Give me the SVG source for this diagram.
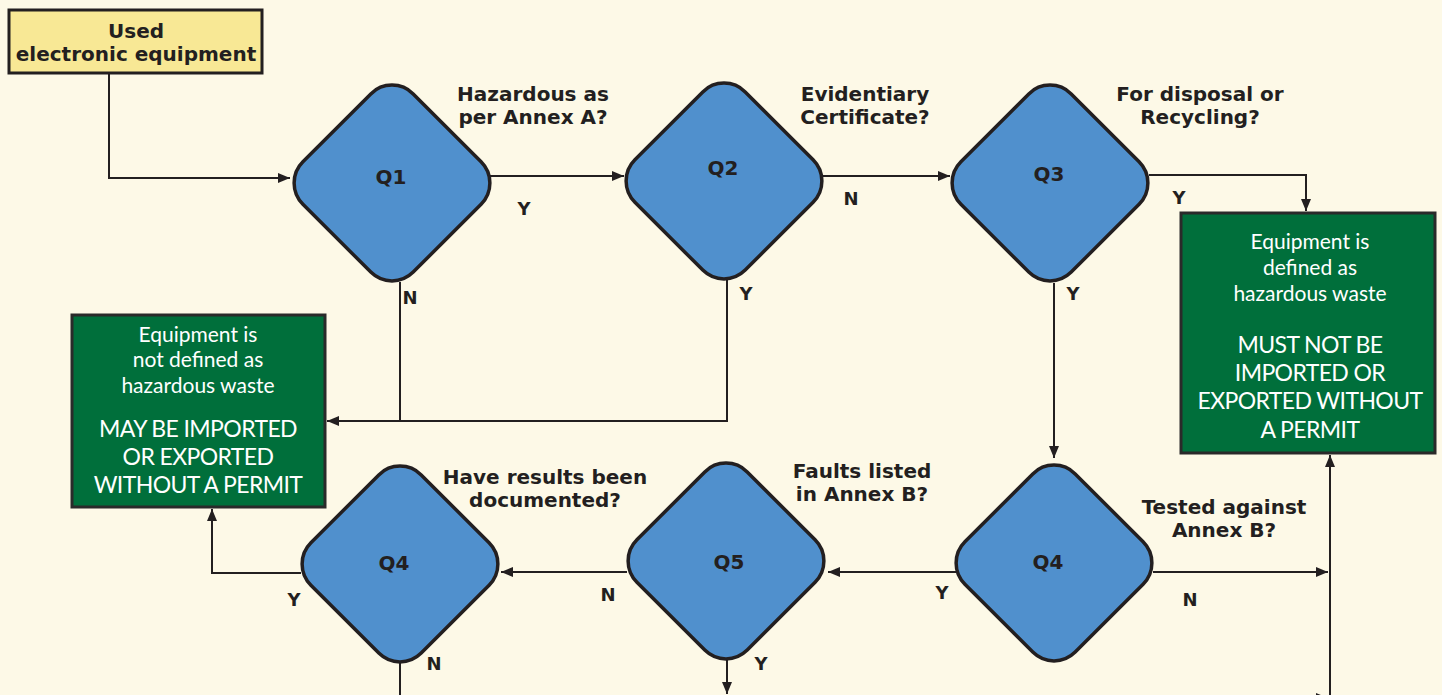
<svg xmlns="http://www.w3.org/2000/svg" width="1442" height="695" viewBox="0 0 1442 695">
<style>
.bg{fill:#fdf9e7}
.dia{fill:#5090cd;stroke:#231f20;stroke-width:3.5}
.yel{fill:#f8e895;stroke:#231f20;stroke-width:3}
.grn{fill:#006f3b;stroke:#2a2a2a;stroke-width:3}
.con{fill:none;stroke:#231f20;stroke-width:2}
.lbl{font-family:"DejaVu Sans","Liberation Sans",sans-serif;font-weight:bold;fill:#231f20;text-anchor:middle}
.q{font-size:20px}
.yn{font-size:18px}
.qt{font-size:20px}
.g{font-family:Lato,"Open Sans",sans-serif;fill:#ffffff;text-anchor:middle}
.gs{font-size:21px}
.gb{font-size:23px;letter-spacing:-0.6px}
</style>
<defs>
<marker id="ah" viewBox="0 0 12 10" refX="12" refY="5" markerWidth="12" markerHeight="10" markerUnits="userSpaceOnUse" orient="auto">
<path d="M0,0 L12,5 L0,10 z" fill="#231f20"/>
</marker>
<rect id="dshape" x="-78" y="-78" width="156" height="156" rx="30" ry="30"/>
</defs>
<rect class="bg" x="0" y="0" width="1442" height="695"/>

<g id="connectors">
<path class="con" d="M109,74 V178 H290" marker-end="url(#ah)"/>
<path class="con" d="M490,176 H624" marker-end="url(#ah)"/>
<path class="con" d="M823,176 H950" marker-end="url(#ah)"/>
<path class="con" d="M1149,175 H1306 V211" marker-end="url(#ah)"/>
<path class="con" d="M1054,283 V458" marker-end="url(#ah)"/>
<path class="con" d="M400,282 V421"/>
<path class="con" d="M727,280 V421 H327" marker-end="url(#ah)"/>
<path class="con" d="M1153,572 H1328" marker-end="url(#ah)"/>
<path class="con" d="M1330,695 V455" marker-end="url(#ah)"/>
<path class="con" d="M1312,698 H1328" marker-end="url(#ah)"/>
<path class="con" d="M956,572 H828" marker-end="url(#ah)"/>
<path class="con" d="M627,572 H501" marker-end="url(#ah)"/>
<path class="con" d="M301,573 H212 V509" marker-end="url(#ah)"/>
<path class="con" d="M400,663 V695"/>
<path class="con" d="M727,660 V694" marker-end="url(#ah)"/>
<text class="lbl yn" x="524" y="215">Y</text>
<text class="lbl yn" x="851" y="205">N</text>
<text class="lbl yn" x="1179" y="204">Y</text>
<text class="lbl yn" x="1073" y="300">Y</text>
<text class="lbl yn" x="410" y="304">N</text>
<text class="lbl yn" x="746" y="300">Y</text>
<text class="lbl yn" x="1190" y="606">N</text>
<text class="lbl yn" x="942" y="599">Y</text>
<text class="lbl yn" x="608" y="601">N</text>
<text class="lbl yn" x="294" y="606">Y</text>
<text class="lbl yn" x="434" y="670">N</text>
<text class="lbl yn" x="761" y="670">Y</text>
<text class="lbl qt" x="533" y="101">Hazardous as</text>
<text class="lbl qt" x="533" y="124">per Annex A?</text>
<text class="lbl qt" x="865" y="101">Evidentiary</text>
<text class="lbl qt" x="865" y="124">Certificate?</text>
<text class="lbl qt" x="1200" y="101">For disposal or</text>
<text class="lbl qt" x="1200" y="124">Recycling?</text>
<text class="lbl qt" x="862" y="478">Faults listed</text>
<text class="lbl qt" x="862" y="501">in Annex B?</text>
<text class="lbl qt" x="545" y="484">Have results been</text>
<text class="lbl qt" x="545" y="507">documented?</text>
<text class="lbl qt" x="1224" y="514">Tested against</text>
<text class="lbl qt" x="1224" y="537">Annex B?</text>
</g>

<g id="start">
<rect class="yel" x="9" y="10" width="253" height="63"/>
<text class="lbl q" x="136" y="38">Used</text>
<text class="lbl q" x="136" y="61">electronic equipment</text>
</g>

<g id="q1">
<use href="#dshape" class="dia" transform="translate(392,183) rotate(45)"/>
<text class="lbl q" x="391" y="184">Q1</text>
</g>
<g id="q2">
<use href="#dshape" class="dia" transform="translate(724,181) rotate(45)"/>
<text class="lbl q" x="723" y="175">Q2</text>
</g>
<g id="q3">
<use href="#dshape" class="dia" transform="translate(1050,183) rotate(45)"/>
<text class="lbl q" x="1049" y="181">Q3</text>
</g>
<g id="q4a">
<use href="#dshape" class="dia" transform="translate(1054,563) rotate(45)"/>
<text class="lbl q" x="1048" y="569">Q4</text>
</g>
<g id="q5">
<use href="#dshape" class="dia" transform="translate(726,561) rotate(45)"/>
<text class="lbl q" x="729" y="569">Q5</text>
</g>
<g id="q4b">
<use href="#dshape" class="dia" transform="translate(400,564) rotate(45)"/>
<text class="lbl q" x="394" y="570">Q4</text>
</g>

<g id="hazardous">
<rect class="grn" x="1181" y="213" width="254" height="240"/>
<text class="g gs" x="1310" y="249">Equipment is</text>
<text class="g gs" x="1310" y="275">defined as</text>
<text class="g gs" x="1310" y="301">hazardous waste</text>
<text class="g gb" x="1310" y="353">MUST NOT BE</text>
<text class="g gb" x="1310" y="381">IMPORTED OR</text>
<text class="g gb" x="1310" y="409">EXPORTED WITHOUT</text>
<text class="g gb" x="1310" y="438">A PERMIT</text>
</g>

<g id="nonhazardous">
<rect class="grn" x="72" y="315" width="253" height="192"/>
<text class="g gs" x="198" y="342">Equipment is</text>
<text class="g gs" x="198" y="367">not defined as</text>
<text class="g gs" x="198" y="393">hazardous waste</text>
<text class="g gb" x="198" y="437">MAY BE IMPORTED</text>
<text class="g gb" x="198" y="465">OR EXPORTED</text>
<text class="g gb" x="198" y="493">WITHOUT A PERMIT</text>
</g>
</svg>
